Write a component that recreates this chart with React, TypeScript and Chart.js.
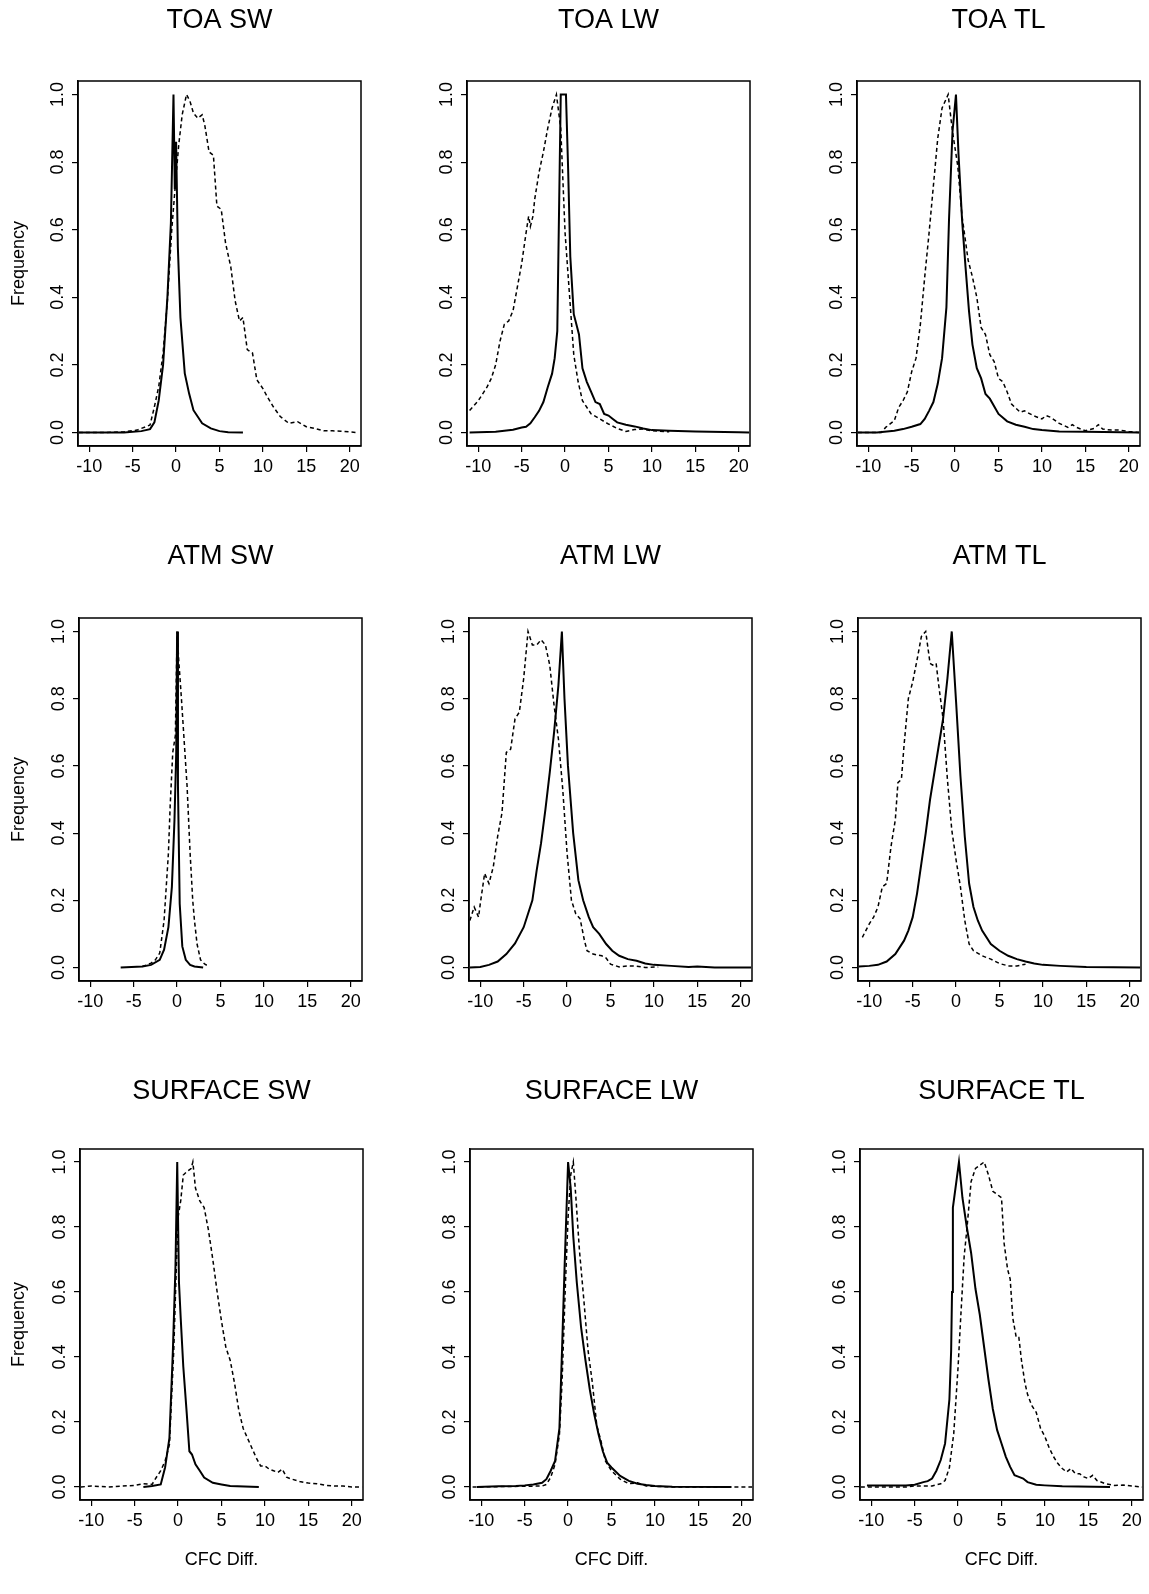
import React, { useEffect, useRef } from "react";
import { Chart, registerables } from "chart.js";

Chart.register(...registerables);

type Pt = [number, number];

// ---------- text ----------
const TITLES = [
  "TOA SW", "TOA LW", "TOA TL",
  "ATM SW", "ATM LW", "ATM TL",
  "SURFACE SW", "SURFACE LW", "SURFACE TL",
];
const Y_LABEL = "Frequency";
const X_LABEL = "CFC Diff.";
const X_TICKS = [-10, -5, 0, 5, 10, 15, 20];
const Y_TICKS = [0, 0.2, 0.4, 0.6, 0.8, 1.0];
const X_MIN = -11.3;
const X_MAX = 21.3;
const Y_MIN = -0.04;
const Y_MAX = 1.04;

// ---------- data (solid = first curve, dashed = second curve) ----------
const TOA_SW_SOLID: Pt[] = [[-11.2,0],[-6,0],[-4,0.004],[-3,0.01],[-2.5,0.03],[-2,0.095],[-1.5,0.2],[-1,0.4],[-0.6,0.62],[-0.3,1.0],[-0.15,0.72],[0,0.86],[0.2,0.55],[0.5,0.34],[1,0.175],[1.5,0.115],[2,0.066],[3,0.027],[4,0.012],[5,0.004],[6,0.001],[7.7,0]];
const TOA_SW_DASHED: Pt[] = [[-11.2,0],[-8,0],[-6,0.002],[-4.5,0.007],[-3.5,0.017],[-3,0.022],[-2.5,0.076],[-2,0.136],[-1.5,0.235],[-1,0.39],[-0.5,0.6],[0,0.76],[0.3,0.85],[0.7,0.94],[1.2,1.0],[1.6,0.98],[2,0.945],[2.5,0.93],[3,0.94],[3.3,0.91],[3.8,0.83],[4.3,0.82],[4.7,0.67],[5.2,0.66],[5.7,0.56],[6.3,0.49],[6.8,0.39],[7.3,0.33],[7.7,0.34],[8.2,0.245],[8.8,0.235],[9.3,0.156],[10,0.13],[10.5,0.106],[11.2,0.076],[12,0.047],[13,0.027],[14,0.032],[15,0.017],[16,0.012],[17,0.005],[18,0.005],[19,0.004],[20.7,0]];

const TOA_LW_SOLID: Pt[] = [[-11,0],[-8,0.002],[-7,0.005],[-6,0.008],[-5,0.015],[-4.5,0.017],[-4,0.027],[-3.5,0.045],[-3,0.064],[-2.5,0.09],[-2,0.134],[-1.5,0.174],[-1.2,0.22],[-0.9,0.3],[-0.5,1.0],[0.1,1.0],[0.35,0.78],[0.6,0.52],[1,0.35],[1.6,0.29],[2,0.19],[2.5,0.15],[3,0.12],[3.5,0.09],[4,0.084],[4.5,0.055],[5,0.05],[5.5,0.04],[6,0.03],[7,0.023],[8,0.018],[9,0.012],[10,0.007],[12,0.005],[15,0.003],[20,0.001],[21.2,0]];
const TOA_LW_DASHED: Pt[] = [[-11,0.065],[-10,0.094],[-9,0.134],[-8.5,0.16],[-8,0.2],[-7.5,0.27],[-7,0.32],[-6.5,0.33],[-6,0.36],[-5.5,0.43],[-5,0.5],[-4.5,0.59],[-4.2,0.64],[-4,0.61],[-3.7,0.64],[-3.5,0.69],[-3,0.77],[-2.5,0.83],[-2,0.9],[-1.5,0.96],[-1,1.0],[-0.5,0.9],[0,0.59],[0.5,0.41],[1,0.23],[1.5,0.15],[2,0.094],[3,0.055],[4,0.04],[5,0.025],[6,0.012],[7,0.003],[8,0.009],[9,0.01],[10,0.005],[12,0.002]];

const TOA_TL_SOLID: Pt[] = [[-11.2,0],[-9,0],[-7,0.005],[-6,0.01],[-5,0.017],[-4,0.025],[-3.5,0.04],[-3,0.064],[-2.5,0.09],[-2,0.144],[-1.5,0.22],[-1,0.37],[-0.7,0.63],[-0.3,0.89],[0.1,1.0],[0.4,0.82],[0.8,0.63],[1.2,0.49],[1.6,0.36],[2,0.26],[2.5,0.19],[3,0.16],[3.5,0.114],[4,0.1],[5,0.055],[6,0.033],[7,0.023],[8,0.017],[9,0.01],[10,0.007],[12,0.003],[15,0.002],[21.2,0]];
const TOA_TL_DASHED: Pt[] = [[-11.2,0],[-8.5,0],[-8,0.015],[-7,0.035],[-6.5,0.074],[-6,0.094],[-5.5,0.12],[-5,0.18],[-4.5,0.22],[-4,0.32],[-3.5,0.46],[-3,0.59],[-2.5,0.73],[-2,0.87],[-1.5,0.96],[-0.8,1.0],[-0.3,0.89],[0.3,0.79],[0.8,0.64],[1.5,0.51],[2,0.46],[2.5,0.4],[3,0.31],[3.5,0.29],[4,0.23],[4.5,0.21],[5,0.16],[5.5,0.15],[6,0.12],[6.5,0.084],[7.5,0.06],[8,0.064],[9,0.05],[10,0.04],[10.5,0.05],[11,0.045],[12,0.027],[13,0.015],[13.5,0.023],[14,0.015],[15,0.005],[16,0.012],[16.5,0.023],[17,0.01],[18,0.007],[19,0.007],[20,0.003],[21.2,0]];

const ATM_SW_SOLID: Pt[] = [[-6.5,0],[-4,0.003],[-3,0.008],[-2,0.023],[-1.5,0.053],[-1,0.12],[-0.6,0.24],[-0.3,0.44],[-0.1,0.64],[0,1.0],[0.1,0.54],[0.3,0.19],[0.6,0.063],[1,0.023],[1.5,0.008],[2,0.003],[3,0]];
const ATM_SW_DASHED: Pt[] = [[-4,0.003],[-3,0.013],[-2.5,0.023],[-2,0.043],[-1.5,0.14],[-1,0.34],[-0.8,0.48],[-0.5,0.64],[-0.2,0.69],[0,1.0],[0.2,0.91],[0.5,0.8],[0.7,0.72],[1.15,0.54],[1.5,0.34],[1.8,0.2],[2,0.14],[2.3,0.07],[2.7,0.023],[3.2,0.01],[3.7,0.003]];

const ATM_LW_SOLID: Pt[] = [[-11.2,0],[-10,0.002],[-9,0.008],[-8,0.018],[-7,0.04],[-6,0.072],[-5,0.12],[-4.5,0.16],[-4,0.2],[-3.5,0.29],[-3,0.37],[-2.5,0.47],[-2,0.58],[-1.5,0.7],[-1,0.84],[-0.6,1.0],[-0.3,0.8],[0.1,0.6],[0.7,0.4],[1.3,0.26],[1.85,0.2],[2.5,0.15],[3,0.12],[3.7,0.1],[4.5,0.07],[5.2,0.05],[6,0.035],[7,0.025],[8,0.02],[9,0.012],[10,0.008],[12,0.005],[14,0.002],[15,0.003],[17,0],[21.2,0]];
const ATM_LW_DASHED: Pt[] = [[-11.2,0.14],[-10.7,0.18],[-10.2,0.15],[-10,0.19],[-9.5,0.28],[-9,0.25],[-8.5,0.3],[-8,0.39],[-7.5,0.46],[-7,0.64],[-6.5,0.65],[-6,0.74],[-5.5,0.76],[-5,0.86],[-4.5,1.0],[-4,0.96],[-3.5,0.96],[-3,0.975],[-2.5,0.96],[-2,0.9],[-1.5,0.78],[-1,0.68],[-0.5,0.53],[0,0.34],[0.5,0.2],[1,0.16],[1.5,0.145],[2,0.08],[2.3,0.05],[3,0.04],[4,0.035],[4.5,0.028],[5,0.01],[6,0.002],[7,0.005],[8,0.004],[9,0],[10.5,0.002]];

const ATM_TL_SOLID: Pt[] = [[-11.2,0.003],[-10,0.005],[-9,0.008],[-8,0.018],[-7,0.04],[-6,0.08],[-5.5,0.11],[-5,0.15],[-4.5,0.22],[-4,0.31],[-3.5,0.4],[-3,0.5],[-2.5,0.58],[-2,0.66],[-1.5,0.74],[-1,0.86],[-0.5,1.0],[0,0.79],[0.5,0.57],[1,0.39],[1.5,0.25],[2,0.18],[2.5,0.14],[3,0.11],[4,0.07],[5,0.05],[6,0.035],[7,0.025],[8,0.018],[9,0.012],[10,0.008],[12,0.005],[15,0.002],[21.2,0]];
const ATM_TL_DASHED: Pt[] = [[-10.8,0.09],[-10,0.13],[-9.5,0.15],[-9,0.18],[-8.5,0.24],[-8,0.25],[-7.5,0.36],[-7,0.44],[-6.7,0.55],[-6.3,0.56],[-6,0.66],[-5.5,0.8],[-5,0.85],[-4.5,0.915],[-4,0.985],[-3.5,1.0],[-3,0.905],[-2.7,0.9],[-2.3,0.905],[-2,0.84],[-1.5,0.74],[-1,0.56],[-0.5,0.41],[0,0.32],[0.5,0.24],[1,0.14],[1.5,0.07],[2,0.05],[3,0.035],[4,0.025],[5,0.012],[6,0.005],[7,0.005],[8,0.01]];

const SFC_SW_SOLID: Pt[] = [[-4,0],[-3,0.003],[-2,0.008],[-1.5,0.06],[-1,0.15],[-0.6,0.42],[-0.3,0.68],[-0.1,1.0],[0.1,0.63],[0.3,0.52],[0.6,0.37],[1,0.225],[1.3,0.11],[1.6,0.1],[2,0.07],[2.5,0.05],[3,0.029],[4,0.013],[5,0.008],[6,0.003],[9.3,0]];
const SFC_SW_DASHED: Pt[] = [[-11.2,0],[-10,0.003],[-8,0],[-5,0.005],[-4,0.01],[-3,0.008],[-2.5,0.03],[-2,0.05],[-1.5,0.08],[-1,0.13],[-0.5,0.42],[-0.2,0.68],[0,0.83],[0.3,0.88],[0.6,0.96],[1,0.97],[1.5,0.98],[1.7,1.0],[2,0.92],[2.5,0.88],[3,0.86],[3.5,0.79],[4,0.7],[4.5,0.6],[5,0.51],[5.5,0.43],[6,0.39],[6.5,0.32],[7,0.235],[7.5,0.18],[8,0.15],[8.5,0.12],[9,0.09],[9.5,0.065],[10,0.065],[10.5,0.055],[11,0.05],[11.5,0.045],[12,0.055],[12.5,0.03],[13,0.025],[14,0.017],[15,0.012],[16,0.01],[17,0.005],[18,0.003],[19,0.003],[20,0],[21.2,0]];

const SFC_LW_SOLID: Pt[] = [[-10.5,0],[-8,0.002],[-6,0.003],[-5,0.005],[-4,0.008],[-3,0.013],[-2.5,0.024],[-2,0.05],[-1.5,0.08],[-1,0.18],[-0.7,0.42],[-0.4,0.68],[-0.1,0.92],[0,1.0],[0.3,0.92],[0.6,0.77],[1,0.63],[1.5,0.49],[2,0.39],[2.5,0.3],[3,0.225],[3.5,0.163],[4,0.11],[4.5,0.075],[5,0.06],[6,0.034],[7,0.019],[8,0.01],[9,0.006],[10,0.003],[12,0.001],[18.8,0]];
const SFC_LW_DASHED: Pt[] = [[-11,0],[-3,0.003],[-2.5,0.008],[-2,0.03],[-1.5,0.07],[-1,0.16],[-0.7,0.32],[-0.3,0.63],[0,0.83],[0.3,0.96],[0.6,1.0],[0.9,0.89],[1.3,0.73],[1.8,0.58],[2.3,0.42],[2.8,0.32],[3.3,0.19],[3.8,0.14],[4.3,0.08],[5,0.05],[6,0.024],[7,0.01],[8,0.013],[9,0.003],[12,0],[21.2,0]];

const SFC_TL_SOLID: Pt[] = [[-10.5,0.005],[-8,0.005],[-6,0.005],[-5,0.007],[-4,0.015],[-3.5,0.018],[-3,0.026],[-2.5,0.05],[-2,0.083],[-1.5,0.134],[-1,0.27],[-0.8,0.42],[-0.7,0.6],[-0.6,0.86],[0.1,1.0],[0.5,0.89],[1,0.8],[1.5,0.72],[2,0.61],[2.5,0.53],[3,0.43],[3.5,0.33],[4,0.24],[4.5,0.175],[5,0.134],[5.5,0.093],[6,0.062],[6.5,0.036],[7,0.031],[7.5,0.026],[8,0.015],[9,0.007],[10,0.005],[12,0.002],[17.5,0]];
const SFC_TL_DASHED: Pt[] = [[-11.2,0],[-6,0],[-5,0.003],[-3,0.003],[-2,0.01],[-1.5,0.02],[-1,0.06],[-0.5,0.165],[0,0.37],[0.3,0.52],[0.7,0.71],[1,0.79],[1.5,0.94],[2,0.98],[2.5,0.99],[3,1.0],[3.5,0.96],[4,0.91],[4.5,0.9],[5,0.89],[5.3,0.75],[5.7,0.67],[6,0.64],[6.3,0.52],[6.7,0.46],[7,0.46],[7.3,0.39],[7.7,0.32],[8,0.285],[8.5,0.25],[9,0.23],[9.5,0.18],[10,0.155],[10.5,0.12],[11,0.093],[11.5,0.072],[12,0.057],[12.5,0.046],[13,0.057],[13.5,0.041],[14,0.041],[14.5,0.031],[15,0.026],[15.5,0.036],[16,0.02],[17,0.01],[18,0.005],[19,0.006],[20,0.003],[21.2,0]];

const SOLID_SERIES: Pt[][] = [TOA_SW_SOLID, TOA_LW_SOLID, TOA_TL_SOLID, ATM_SW_SOLID, ATM_LW_SOLID, ATM_TL_SOLID, SFC_SW_SOLID, SFC_LW_SOLID, SFC_TL_SOLID];
const DASHED_SERIES: Pt[][] = [TOA_SW_DASHED, TOA_LW_DASHED, TOA_TL_DASHED, ATM_SW_DASHED, ATM_LW_DASHED, ATM_TL_DASHED, SFC_SW_DASHED, SFC_LW_DASHED, SFC_TL_DASHED];

// ---------- layout (page pixels) ----------
const BOX_LEFT = [78, 467, 857, 79, 469, 858, 80, 470, 860];
const BOX_W = 283;
const ROW_TOP = [81, 618, 1149];
const ROW_BOTTOM = [446, 981, 1500];
const ROW_TITLE_Y = [20.3, 557, 1092];
const YLAB_X = 18.8;
const XLAB_Y = 1560;
const PAD_L = 76;
const PAD_T = 80;
const PAD_B = 80;

const FONT = "'Liberation Sans', Arial, Helvetica, sans-serif";
const TITLE_SIZE = 27;
const TICK_SIZE = 18;
const LAB_SIZE = 18;

const framePlugin = {
  id: "frame",
  afterDraw(chart: any) {
    const { ctx, chartArea } = chart;
    const { left, top, right, bottom } = chartArea;
    ctx.save();
    ctx.strokeStyle = "#000";
    ctx.lineWidth = 1.5;
    ctx.strokeRect(left, top, right - left, bottom - top);
    ctx.restore();
  },
};

function Panel({ idx }: { idx: number }) {
  const ref = useRef<HTMLCanvasElement | null>(null);
  const row = Math.floor(idx / 3);
  const col = idx % 3;
  const boxL = BOX_LEFT[idx];
  const boxT = ROW_TOP[row];
  const boxH = ROW_BOTTOM[row] - boxT;
  const cl = boxL - PAD_L;
  const ct = boxT - PAD_T;
  const cw = PAD_L + BOX_W + PAD_L;
  const ch = PAD_T + boxH + PAD_B;

  useEffect(() => {
    const canvas = ref.current;
    if (!canvas) return;
    const titleLH = TITLE_SIZE * 1.2;
    const titlePadTop = ROW_TITLE_Y[row] - ct - titleLH / 2;
    const titlePadBottom = PAD_T - titlePadTop - titleLH;
    const labLH = LAB_SIZE * 1.2;
    const ylabPad = YLAB_X - cl - labLH / 2;
    const xlabPad = ch - (XLAB_Y - ct) - labLH / 2;

    const chart = new Chart(canvas, {
      type: "line",
      data: {
        datasets: [
          {
            data: SOLID_SERIES[idx].map(([x, y]) => ({ x, y })),
            borderColor: "#000",
            borderWidth: 2,
            pointRadius: 0,
            tension: 0,
            fill: false,
          },
          {
            data: DASHED_SERIES[idx].map(([x, y]) => ({ x, y })),
            borderColor: "#000",
            borderWidth: 1.5,
            borderDash: [4, 3],
            pointRadius: 0,
            tension: 0,
            fill: false,
          },
        ],
      },
      options: {
        responsive: false,
        animation: false,
        devicePixelRatio: 1,
        layout: { padding: { left: 0, right: PAD_L, top: 0, bottom: 0 } },
        plugins: {
          legend: { display: false },
          tooltip: { enabled: false },
          title: {
            display: true,
            fullSize: false,
            text: TITLES[idx],
            color: "#000",
            font: { family: FONT, size: TITLE_SIZE, weight: "normal", lineHeight: 1.2 },
            padding: { top: titlePadTop, bottom: titlePadBottom },
          },
        },
        scales: {
          x: {
            type: "linear",
            position: "bottom",
            min: X_MIN,
            max: X_MAX,
            afterBuildTicks: (s: any) => {
              s.ticks = X_TICKS.map((v) => ({ value: v }));
            },
            afterFit: (s: any) => {
              s.height = PAD_B;
              s.paddingLeft = 0;
              s.paddingRight = 0;
              s.paddingTop = 0;
              s.paddingBottom = 0;
            },
            grid: { drawOnChartArea: false, drawTicks: true, tickLength: 6, color: "#000", lineWidth: 1.2 },
            border: { display: true, color: "#000", width: 1.5 },
            ticks: {
              color: "#000",
              font: { family: FONT, size: TICK_SIZE, lineHeight: 1.2 },
              padding: 4,
              minRotation: 0,
              maxRotation: 0,
              autoSkip: false,
              callback: (v: any) => String(v),
            },
            title: {
              display: row === 2,
              text: X_LABEL,
              color: "#000",
              font: { family: FONT, size: LAB_SIZE, lineHeight: 1.2 },
              padding: { top: 0, bottom: xlabPad },
            },
          },
          y: {
            type: "linear",
            position: "left",
            min: Y_MIN,
            max: Y_MAX,
            afterBuildTicks: (s: any) => {
              s.ticks = Y_TICKS.map((v) => ({ value: v }));
            },
            afterFit: (s: any) => {
              s.width = PAD_L;
              s.paddingLeft = 0;
              s.paddingRight = 0;
              s.paddingTop = 0;
              s.paddingBottom = 0;
            },
            grid: { drawOnChartArea: false, drawTicks: true, tickLength: 6, color: "#000", lineWidth: 1.2 },
            border: { display: true, color: "#000", width: 1.5 },
            ticks: {
              color: "#000",
              font: { family: FONT, size: TICK_SIZE, lineHeight: 1.2 },
              padding: 1.2,
              minRotation: 90,
              maxRotation: 90,
              crossAlign: "center",
              autoSkip: false,
              callback: (v: any) => Number(v).toFixed(1),
            },
            title: {
              display: col === 0,
              text: Y_LABEL,
              color: "#000",
              font: { family: FONT, size: LAB_SIZE, lineHeight: 1.2 },
              padding: { top: ylabPad, bottom: 0 },
            },
          },
        },
      } as any,
      plugins: [framePlugin],
    });
    return () => chart.destroy();
  }, []);

  return (
    <canvas
      ref={ref}
      width={cw}
      height={ch}
      style={{ position: "absolute", left: cl, top: ct, width: cw, height: ch }}
    />
  );
}

export default function App() {
  return (
    <div
      style={{
        position: "absolute",
        left: 0,
        top: 0,
        width: 1149,
        height: 1594,
        background: "#fff",
        overflow: "hidden",
      }}
    >
      {TITLES.map((_, i) => (
        <Panel key={i} idx={i} />
      ))}
    </div>
  );
}
